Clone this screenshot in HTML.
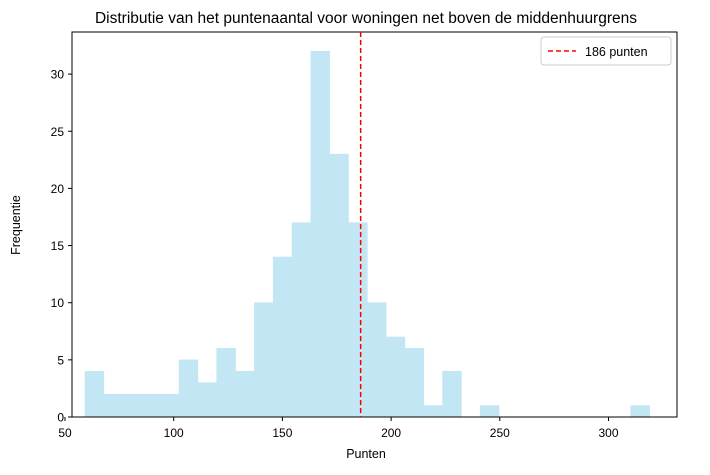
<!DOCTYPE html>
<html><head><meta charset="utf-8"><style>
body{margin:0;background:#fff;}
svg{font-family:"Liberation Sans","DejaVu Sans",sans-serif;}
</style></head><body>
<svg id="chart" width="710" height="470" xmlns="http://www.w3.org/2000/svg">
<text x="366" y="23" text-anchor="middle" font-size="15.5" fill="#000">Distributie van het puntenaantal voor woningen net boven de middenhuurgrens</text>
<g id="bars"></g>
<g id="xticks"></g>
<g id="yticks"></g>
<rect x="72" y="32" width="605" height="385" fill="none" stroke="#000" stroke-width="1"/>
<text x="366" y="458" text-anchor="middle" font-size="12.5">Punten</text>
<text x="20" y="225" text-anchor="middle" font-size="12.5" transform="rotate(-90 20 225)">Frequentie</text>
<g>
<rect x="541" y="37" width="130" height="28" rx="3" fill="#fff" stroke="#ccc"/>
<line x1="548" y1="51" x2="576" y2="51" stroke="#f00" stroke-width="1.5" stroke-dasharray="5,3"/>
<text x="585" y="56" font-size="12.5">186 punten</text>
</g>
</svg>
<script>
const binStart = 59.2;
const binEnd = 318.9;
const counts = [4,2,2,2,2,5,3,6,4,10,14,17,32,23,17,10,7,6,1,4,0,1,0,0,0,0,0,0,0,1];
const xTicks = [50,100,150,200,250,300];
const yTicks = [0,5,10,15,20,25,30];
const threshold = 186;
const NS="http://www.w3.org/2000/svg";
const X=v=>65+(v-50)*2.174;
const Y=v=>417-v*11.43;
function mk(t,a,p){const e=document.createElementNS(NS,t);for(const k in a)e.setAttribute(k,a[k]);p.appendChild(e);return e;}
const bars=document.getElementById('bars');
const w=(binEnd-binStart)/counts.length;
counts.forEach((c,i)=>{if(!c)return;
const x0=X(binStart+i*w),x1=X(binStart+(i+1)*w);
const r=mk('rect',{x:x0,y:Y(c),width:x1-x0,height:Y(0)-Y(c),fill:'#c3e6f4',stroke:'#c3e6f4','stroke-width':0.6},bars);

});
const xt=document.getElementById('xticks');
xTicks.forEach(v=>{const x=X(v);
mk('line',{x1:x,x2:x,y1:417,y2:421,stroke:'#000'},xt);
const t=mk('text',{x:x,y:437,'text-anchor':'middle','font-size':'12'},xt);t.textContent=v;

});
const yt=document.getElementById('yticks');
yTicks.forEach(v=>{const y=Y(v);
mk('line',{x1:68,x2:72,y1:y,y2:y,stroke:'#000'},yt);
const t=mk('text',{x:64,y:y+4.5,'text-anchor':'end','font-size':'12'},yt);t.textContent=v;

});
const l=mk('line',{x1:X(threshold),x2:X(threshold),y1:32,y2:417,stroke:'#f00','stroke-width':1.5,'stroke-dasharray':'5,3'},document.getElementById('chart'));


</script>
</body></html>
